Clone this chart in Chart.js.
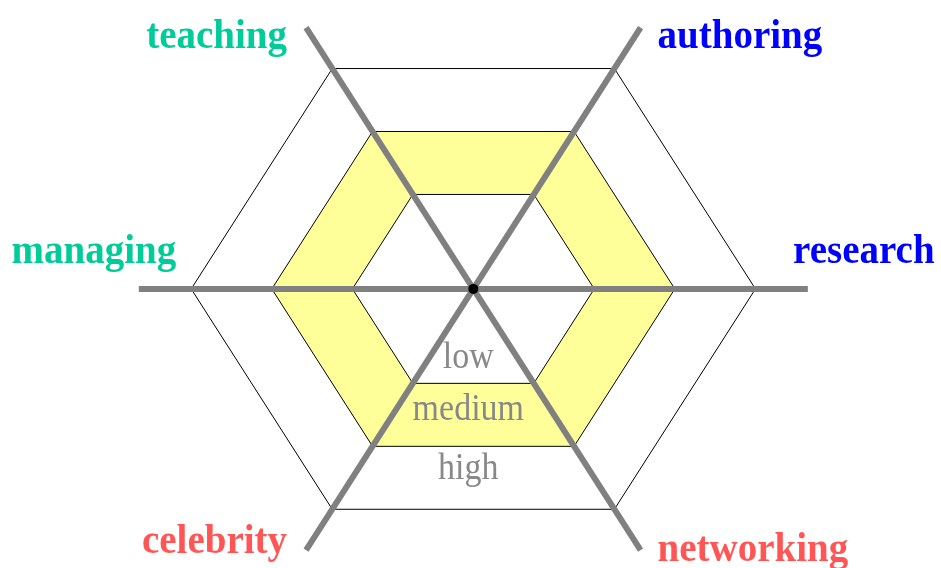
<!DOCTYPE html>
<html>
<head>
<meta charset="utf-8">
<script src="https://cdn.jsdelivr.net/npm/chart.js@4.4.1/dist/chart.umd.min.js"></script>
<style>
  html, body { margin: 0; padding: 0; background: #fff; }
  #wrap { width: 941px; height: 568px; position: relative; }
</style>
</head>
<body>
<div id="wrap"><canvas id="chartHex"></canvas></div>
<script>
// categories, counter-clockwise starting at the right (0°, 60°, 120°, ...)
const categories = ['research', 'authoring', 'teaching', 'managing', 'celebrity', 'networking'];
// zone names and the radius of each zone's outer hexagon
const levels = ['low', 'medium', 'high'];
const levelBounds = [1.5, 2.5, 3.5];
// length of the grey spokes
const axisLength = 4.15;

const categoryColors = ['#0000ff', '#0000ff', '#00cc99', '#00cc99', '#ff5555', '#ff5555'];
// where the zone names sit, measured down the vertical from the centre
const zoneLabelRadius = [1.12, 1.94, 2.87];

const polar = (r, i) => ({ x: r * Math.cos(i * Math.PI / 3), y: r * Math.sin(i * Math.PI / 3) });
const hexagon = r => categories.map((c, i) => polar(r, i)).concat([polar(r, 0)]);

// outer ring plain, middle ring yellow, inner ring white (cuts the band)
const ringStyle = [
  { fill: '#ffffff', order: 3 },
  { fill: '#ffff99', order: 4 },
  { fill: false, order: 5 }
];

const datasets = [];
levelBounds.forEach((b, k) => {
  datasets.push({
    label: levels[k],
    data: hexagon(b),
    showLine: true,
    fill: ringStyle[k].fill ? 'shape' : false,
    backgroundColor: ringStyle[k].fill || 'transparent',
    borderColor: '#000',
    borderWidth: 1,
    pointRadius: 0,
    tension: 0,
    order: ringStyle[k].order
  });
});
categories.forEach((c, i) => {
  datasets.push({
    label: c,
    data: [{ x: 0, y: 0 }, polar(axisLength, i)],
    showLine: true,
    fill: false,
    borderColor: '#808080',
    borderWidth: 6,
    borderCapStyle: 'butt',
    pointRadius: 0,
    order: 2
  });
});
datasets.push({
  label: 'centre',
  data: [{ x: 0, y: 0 }],
  pointRadius: 5,
  pointBackgroundColor: '#000',
  pointBorderWidth: 0,
  order: 1
});

// draws text slightly stretched upwards, like the original
function tallText(ctx, text, x, y) {
  ctx.save();
  ctx.translate(x, y);
  ctx.scale(1, 1.1);
  ctx.fillText(text, 0, 0);
  ctx.restore();
}

const labelPlugin = {
  id: 'hexLabels',
  afterDatasetsDraw(chart) {
    const { ctx, scales: { x, y } } = chart;
    ctx.save();
    ctx.textBaseline = 'alphabetic';
    ctx.font = 'bold 39px "Liberation Serif", "Times New Roman", serif';
    categories.forEach((name, i) => {
      const end = polar(axisLength, i);
      const px = x.getPixelForValue(end.x), py = y.getPixelForValue(end.y);
      const c = Math.cos(i * Math.PI / 3);
      let tx, ty;
      if (Math.abs(c) > 0.9) {
        ctx.textAlign = 'center';
        tx = px + (c > 0 ? 56 : -45);
        ty = py - 26;
      } else {
        ctx.textAlign = c > 0 ? 'left' : 'right';
        tx = px + (c > 0 ? 17 : -19);
        ty = py + (end.y > 0 ? 20 : (c > 0 ? 11 : 3));
      }
      ctx.fillStyle = categoryColors[i];
      tallText(ctx, name, tx, ty);
    });

    ctx.font = '34px "Liberation Serif", "Times New Roman", serif';
    ctx.fillStyle = '#888888';
    ctx.textAlign = 'center';
    levels.forEach((name, k) => {
      const yy = -zoneLabelRadius[k] * Math.sin(Math.PI / 3);
      tallText(ctx, name, x.getPixelForValue(0) - 5, y.getPixelForValue(yy) + 9);
    });
    ctx.restore();
  }
};

new Chart(document.getElementById('chartHex').getContext('2d'), {
  type: 'scatter',
  data: { datasets },
  options: {
    responsive: true,
    maintainAspectRatio: false,
    animation: false,
    events: [],
    layout: { padding: 0 },
    plugins: { legend: { display: false }, tooltip: { enabled: false } },
    scales: {
      x: { display: false, min: -5.81, max: 5.74 },
      y: { display: false, min: -3.77, max: 3.905 }
    }
  },
  plugins: [labelPlugin]
});
</script>
</body>
</html>
